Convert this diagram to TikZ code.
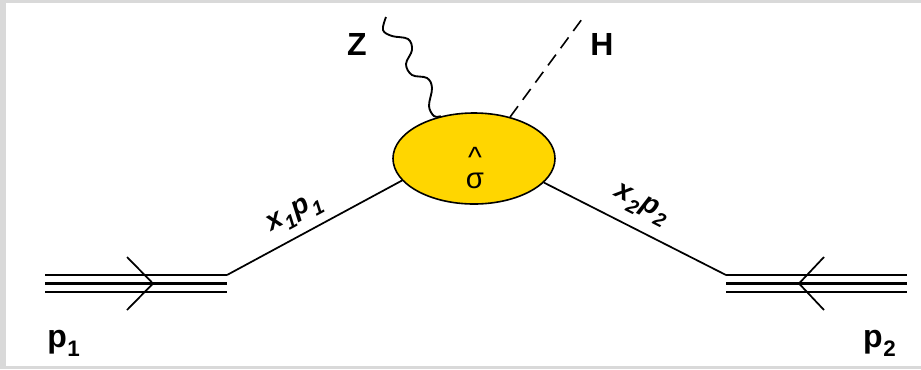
\documentclass[tikz,border=0pt]{standalone}
\usepackage{fontspec}
\setmainfont{Liberation Sans}
\usepackage{graphicx}
\usetikzlibrary{shapes.geometric}
\definecolor{blobgold}{RGB}{255,214,0}
\definecolor{framegray}{RGB}{217,217,217}
\newcommand{\lowidx}[2]{#1\kern0.5pt\raisebox{-0.3em}{\scalebox{0.7}{#2}}\kern1.5pt}
\tikzset{
  beam/.style={line width=2.1pt},
  parton/.style={line width=1.3pt},
  boson/.style={line width=1.4pt},
  scalar/.style={line width=1.2pt,dash pattern=on 10pt off 6pt},
  lab/.style={font=\fontsize{24}{28}\selectfont\bfseries},
  mom/.style={font=\fontsize{21}{24}\selectfont\bfseries\itshape}
}
\begin{document}
\begin{tikzpicture}[x=0.75pt,y=-0.75pt]
    \fill[framegray] (0,0) rectangle (921,369);
    \fill[white] (6,3) rectangle (921,366);
    \useasboundingbox (0,0) rectangle (921,369);
    \node[ellipse,draw,fill=blobgold,line width=1.2pt,inner sep=0pt,
          minimum width=121.5pt,minimum height=68.25pt] (blob) at (474,158.5) {};
    \node[font=\fontsize{22}{22}\selectfont,align=center] (sig) at (475,168) {\^{}\\[-6pt]σ};
    \foreach \y in {275,283.5,292}
    {
        \draw[beam] (45,\y) -- (227,\y);
        \draw[beam] (726,\y) -- (907,\y);
    }
    \draw[parton] (127,257) -- (153,283.5) -- (127,310);
    \draw[parton] (824,257) -- (799,283.5) -- (824,310);
    \coordinate (in1) at (227,275);
    \coordinate (in2) at (726,275);
    \coordinate (hend) at (585,15);
    \draw[parton] (in1) -- (blob.197) node[pos=0.45,sloped,above=3pt,mom] (x1lab) {\lowidx{x}{1}\lowidx{p}{1}};
    \draw[parton] (blob.-19) -- (in2) node[pos=0.48,sloped,above=5pt,mom] (x2lab) {\lowidx{x}{2}\lowidx{p}{2}};
    \draw[boson] plot[smooth,tension=0.6] coordinates {(386,17) (383,30) (392,36) (408,39) (412,50) (406,64) (412,75) (427,78) (432,88) (429,106) (434,116) (blob.128)};
    \draw[scalar] (blob.49) -- (hend);
    \node[lab] (zlab) at (357,44) {Z};
    \node[lab] (hlab) at (602,44) {H};
    \node[lab,anchor=base west,inner sep=0pt] (p1lab) at (47,347) {\lowidx{p}{1}};
    \node[lab,anchor=base east,inner sep=0pt] (p2lab) at (898,347) {\lowidx{p}{2}};
\end{tikzpicture}
\end{document}
